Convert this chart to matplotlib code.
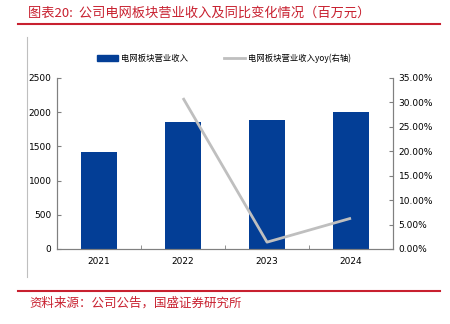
import matplotlib.pyplot as plt
from matplotlib.patches import Patch
from matplotlib.lines import Line2D
from matplotlib.ticker import FuncFormatter

plt.rcParams['font.family'] = ['Noto Sans CJK SC', 'DejaVu Sans']

years = ["2021", "2022", "2023", "2024"]
revenue = [1418, 1857, 1886, 2003]
yoy_years = ["2022", "2023", "2024"]
yoy = [30.9, 1.4, 6.3]

BLUE = "#033E96"
GREY = "#BFBFBF"
RED = "#C8202F"

fig = plt.figure(figsize=(4.5, 3.24), dpi=100)
ax = fig.add_axes([0.1267, 0.2315, 0.7467, 0.5278])
ax2 = ax.twinx()

x = list(range(len(years)))
ax.bar(x, revenue, width=0.43, color=BLUE, zorder=2)
ax2.plot([years.index(y) for y in yoy_years], yoy, color=GREY, linewidth=2.0,
         solid_capstyle="butt", zorder=3)

ax.set_xlim(-0.5, len(years) - 0.5)
ax.set_ylim(0, 2500)
ax.set_yticks(range(0, 2501, 500))
ax2.set_ylim(0, 35)
ax2.set_yticks(range(0, 36, 5))
ax2.yaxis.set_major_formatter(FuncFormatter(lambda v, _: f"{v:.2f}%"))

ax.set_xticks(x)
ax.set_xticklabels(years)
ax.set_xticks([i + 0.5 for i in x[:-1]], minor=True)
ax.tick_params(axis="x", which="major", length=0, pad=6)
ax.tick_params(axis="x", which="minor", length=3, direction="in", color="#808080")

for a in (ax, ax2):
    a.spines["top"].set_visible(False)
    for s in ("left", "right", "bottom"):
        a.spines[s].set_color("#808080")
        a.spines[s].set_linewidth(0.8)
    a.tick_params(axis="y", length=3, direction="in", color="#808080",
                  labelsize=6.5, labelcolor="#000000", pad=4)
ax.tick_params(axis="x", labelsize=6.5)
for lbl in ax.get_xticklabels() + ax.get_yticklabels() + ax2.get_yticklabels():
    lbl.set_family("DejaVu Sans")

handles = [Patch(facecolor=BLUE, edgecolor=BLUE),
           Line2D([0], [0], color=GREY, linewidth=2.0)]
fig.legend(handles, ["电网板块营业收入", "电网板块营业收入yoy(右轴)"],
           loc="center", bbox_to_anchor=(0.497, 0.821), ncol=2, frameon=False,
           fontsize=6, handlelength=2.6, handleheight=0.8, handletextpad=0.3,
           columnspacing=4.3)

# header and footer
fig.text(0.062, 0.958, "图表20:  公司电网板块营业收入及同比变化情况（百万元）",
         color=RED, fontsize=9.5, style="italic", va="center", ha="left")
fig.add_artist(Line2D([0.04, 0.978], [0.926, 0.926], color=RED, linewidth=1.5))
fig.add_artist(Line2D([0.04, 0.978], [0.102, 0.102], color=RED, linewidth=1.5))
fig.add_artist(Line2D([0.06, 0.06], [0.145, 0.886], color="#BFBFBF", linewidth=0.8))
fig.text(0.066, 0.065, "资料来源：公司公告，国盛证券研究所",
         color=RED, fontsize=9, style="italic", va="center", ha="left")

fig.savefig("out.png", dpi=100)
